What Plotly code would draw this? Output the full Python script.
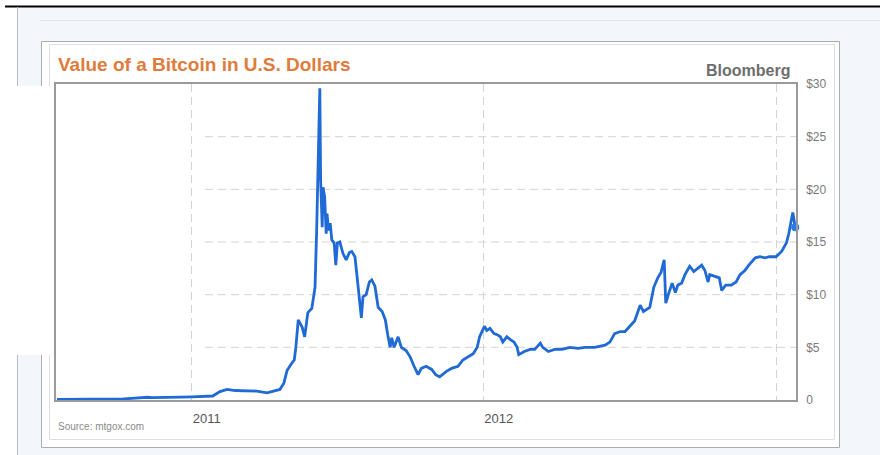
import plotly.graph_objects as go

# Mt. Gox closing price, USD per bitcoin
dates = [
    "2010-07-16", "2010-08-14", "2010-09-08", "2010-10-07", "2010-10-22", "2010-11-06",
    "2010-11-12", "2010-11-28", "2010-12-17", "2011-01-01", "2011-01-17", "2011-01-27",
    "2011-02-05", "2011-02-14", "2011-02-24", "2011-03-08", "2011-03-23", "2011-04-05",
    "2011-04-12", "2011-04-21", "2011-04-26", "2011-04-30", "2011-05-05", "2011-05-09",
    "2011-05-11", "2011-05-14", "2011-05-19", "2011-05-22", "2011-05-26", "2011-05-31",
    "2011-06-04", "2011-06-06", "2011-06-10", "2011-06-11", "2011-06-13", "2011-06-14",
    "2011-06-16", "2011-06-18", "2011-06-19", "2011-06-21", "2011-06-23", "2011-06-25",
    "2011-06-28", "2011-06-30", "2011-07-02", "2011-07-05", "2011-07-09", "2011-07-13",
    "2011-07-17", "2011-07-20", "2011-07-24", "2011-07-28", "2011-08-01", "2011-08-03",
    "2011-08-07", "2011-08-11", "2011-08-14", "2011-08-18", "2011-08-22", "2011-08-27",
    "2011-08-31", "2011-09-03", "2011-09-06", "2011-09-08", "2011-09-11", "2011-09-16",
    "2011-09-20", "2011-09-26", "2011-10-01", "2011-10-06", "2011-10-11", "2011-10-15",
    "2011-10-21", "2011-10-28", "2011-11-02", "2011-11-07", "2011-11-15", "2011-11-22",
    "2011-11-30", "2011-12-06", "2011-12-12", "2011-12-19", "2011-12-24", "2011-12-27",
    "2012-01-02", "2012-01-05", "2012-01-09", "2012-01-14", "2012-01-18", "2012-01-22",
    "2012-01-25", "2012-01-30", "2012-02-04", "2012-02-08", "2012-02-12", "2012-02-14",
    "2012-02-21", "2012-02-28", "2012-03-05", "2012-03-12", "2012-03-15", "2012-03-22",
    "2012-03-30", "2012-04-08", "2012-04-18", "2012-04-28", "2012-05-07", "2012-05-19",
    "2012-06-01", "2012-06-07", "2012-06-13", "2012-06-20", "2012-06-26", "2012-07-02",
    "2012-07-08", "2012-07-15", "2012-07-19", "2012-07-27", "2012-08-01", "2012-08-06",
    "2012-08-10", "2012-08-14", "2012-08-16", "2012-08-20", "2012-08-24", "2012-08-28",
    "2012-08-31", "2012-09-05", "2012-09-09", "2012-09-15", "2012-09-20", "2012-09-25",
    "2012-09-30", "2012-10-04", "2012-10-08", "2012-10-10", "2012-10-17", "2012-10-22",
    "2012-10-25", "2012-10-30", "2012-11-06", "2012-11-12", "2012-11-17", "2012-11-23",
    "2012-11-28", "2012-12-06", "2012-12-12", "2012-12-18", "2012-12-24", "2013-01-01",
    "2013-01-08", "2013-01-14", "2013-01-17", "2013-01-20", "2013-01-22", "2013-01-25",
]
prices = [
    0.06, 0.06, 0.07, 0.10, 0.18, 0.26,
    0.22, 0.22, 0.27, 0.30, 0.32, 0.38,
    0.80, 1.00, 0.90, 0.88, 0.85, 0.68,
    0.80, 1.00, 1.60, 2.80, 3.40, 3.80,
    5.00, 7.60, 6.90, 6.00, 8.30, 8.70,
    10.7, 16.0, 29.6, 20.9, 16.4, 20.2,
    19.3, 15.8, 17.7, 16.1, 16.8, 15.2,
    14.9, 12.8, 14.9, 15.0, 13.9, 13.3,
    14.0, 14.1, 13.6, 10.7, 7.8, 9.8,
    10.0, 11.2, 11.4, 10.8, 8.8, 8.4,
    7.6, 6.2, 5.0, 5.9, 5.0, 6.0,
    5.0, 4.7, 4.1, 3.2, 2.4, 3.0,
    3.2, 2.9, 2.4, 2.2, 2.7, 3.0,
    3.2, 3.8, 4.1, 4.4, 5.0, 6.0,
    7.0, 6.6, 6.8, 6.3, 6.2, 6.0,
    5.5, 6.0, 5.7, 5.5, 5.0, 4.3,
    4.6, 4.8, 4.8, 5.4, 5.0, 4.6,
    4.8, 4.8, 5.0, 4.9, 5.0, 5.0,
    5.2, 5.5, 6.3, 6.5, 6.5, 7.0,
    7.5, 9.0, 8.4, 8.8, 10.7, 11.6,
    12.1, 13.3, 9.2, 10.2, 11.1, 10.2,
    10.9, 11.1, 11.9, 12.7, 12.2, 12.5,
    12.8, 12.3, 11.2, 11.9, 11.7, 11.6,
    10.4, 10.9, 10.9, 11.2, 11.9, 12.3,
    12.8, 13.5, 13.6, 13.5, 13.6, 13.6,
    14.1, 14.9, 15.8, 16.9, 17.8, 16.4,
]

year_ticks = ["2011-01-01", "2012-01-01", "2013-01-01"]
year_labels = ["2011", "2012", ""]
price_ticks = [0, 5, 10, 15, 20, 25, 30]
price_labels = ["0", "$5", "$10", "$15", "$20", "$25", "$30"]

W, H = 880, 455
ML, MR, MT, MB = 56, 84, 84, 55
PW, PH = W - ML - MR, H - MT - MB


def px_x(p):
    return (p - ML) / PW


def px_y(p):
    return (H - MB - p) / PH


LINE_BLUE = "#1f6ad4"
FONT = "Arial, Liberation Sans"

fig = go.Figure()
fig.add_trace(go.Scatter(
    x=dates, y=prices, mode="lines",
    line=dict(color=LINE_BLUE, width=2.8),
    hoverinfo="x+y", showlegend=False,
))
fig.add_trace(go.Scatter(
    x=dates[-1:], y=prices[-1:], mode="markers",
    marker=dict(color="#2a7be4", size=8),
    cliponaxis=False, showlegend=False,
))

shapes = []
# page frame: white margin strips, black rule, light separators
shapes.append(dict(type="rect", xref="paper", yref="paper", layer="below",
                   x0=px_x(0), x1=px_x(17), y0=px_y(H), y1=px_y(0),
                   fillcolor="white", line=dict(width=0)))
shapes.append(dict(type="rect", xref="paper", yref="paper", layer="below",
                   x0=px_x(0), x1=px_x(W), y0=px_y(6), y1=px_y(0),
                   fillcolor="white", line=dict(width=0)))
shapes.append(dict(type="line", xref="paper", yref="paper", layer="below",
                   x0=px_x(5), x1=px_x(W), y0=px_y(6.5), y1=px_y(6.5),
                   line=dict(color="black", width=2)))
shapes.append(dict(type="line", xref="paper", yref="paper", layer="below",
                   x0=px_x(17.5), x1=px_x(17.5), y0=px_y(7), y1=px_y(H),
                   line=dict(color="#b8bcc2", width=1)))
shapes.append(dict(type="line", xref="paper", yref="paper", layer="below",
                   x0=px_x(40), x1=px_x(W), y0=px_y(20.5), y1=px_y(20.5),
                   line=dict(color="#dfe5ec", width=1)))
# chart card
shapes.append(dict(type="rect", xref="paper", yref="paper", layer="below",
                   x0=px_x(41.5), x1=px_x(839.5), y0=px_y(447.5), y1=px_y(41.5),
                   fillcolor="white", line=dict(color="#a9adb2", width=1)))
shapes.append(dict(type="rect", xref="paper", yref="paper", layer="below",
                   x0=px_x(49.5), x1=px_x(834.5), y0=px_y(439.5), y1=px_y(44.5),
                   fillcolor="rgba(0,0,0,0)", line=dict(color="#dcdfe3", width=1)))
# blank panel on the left edge
shapes.append(dict(type="rect", xref="paper", yref="paper", layer="below",
                   x0=px_x(0), x1=px_x(57), y0=px_y(355), y1=px_y(86),
                   fillcolor="white", line=dict(width=0)))
# horizontal price guides
for v in price_ticks[1:-1]:
    shapes.append(dict(type="line", xref="paper", yref="y", layer="between",
                       x0=px_x(205), x1=1, y0=v, y1=v,
                       line=dict(color="#d3d3d3", width=1, dash="8px,5px")))

annotations = [
    dict(text="<b>Value of a Bitcoin in U.S. Dollars</b>", xref="paper", yref="paper",
         x=px_x(56), y=px_y(64.5), xanchor="left", yanchor="middle", showarrow=False,
         font=dict(family=FONT, size=19, color="#e07b3c")),
    dict(text="<b>Bloomberg</b>", xref="paper", yref="paper",
         x=px_x(792), y=px_y(70.5), xanchor="right", yanchor="middle", showarrow=False,
         font=dict(family=FONT, size=16, color="#6e6e6e")),
    dict(text="Source: mtgox.com", xref="paper", yref="paper",
         x=px_x(56), y=px_y(426), xanchor="left", yanchor="middle", showarrow=False,
         font=dict(family=FONT, size=10, color="#8a8a8a")),
]

fig.update_layout(
    width=W, height=H, autosize=False,
    margin=dict(l=ML, r=MR, t=MT, b=MB, pad=0),
    paper_bgcolor="#f3f7fb", plot_bgcolor="white",
    shapes=shapes, annotations=annotations,
    showlegend=False,
)
fig.update_xaxes(
    type="date", range=["2010-07-14 19:00", "2013-01-26 00:00"],
    tickmode="array", tickvals=year_ticks, ticktext=year_labels,
    ticklabelposition="outside right", ticks="", ticklabelstandoff=6,
    tickfont=dict(family=FONT, size=13, color="#555555"),
    showgrid=True, gridcolor="#d3d3d3", griddash="8px,5px", gridwidth=1,
    showline=True, linecolor="#9a9a9a", linewidth=1.5, mirror=True,
    zeroline=False, fixedrange=True,
)
fig.update_yaxes(
    side="right", range=[0, 30],
    tickmode="array", tickvals=price_ticks, ticktext=price_labels,
    ticks="", ticklabelstandoff=6,
    tickfont=dict(family=FONT, size=12, color="#7a7a7a"),
    showgrid=False, showline=True, linecolor="#9a9a9a", linewidth=1.5, mirror=True,
    zeroline=False, fixedrange=True,
)

fig.write_html("out.html")
